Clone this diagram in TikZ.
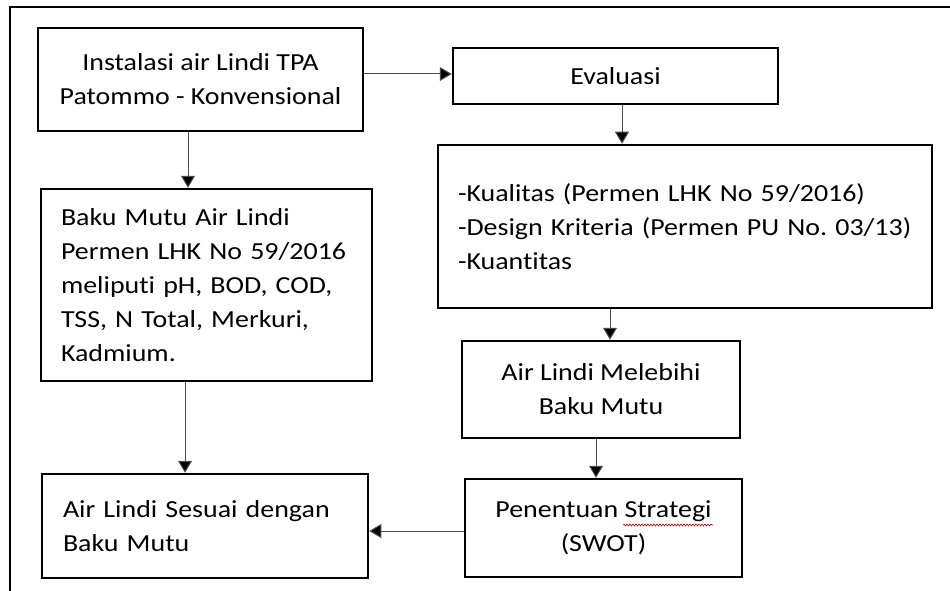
\documentclass[tikz,border=0pt]{standalone}
\usepackage{fontspec}
\setmainfont{Carlito}[FakeStretch=1.14,Ligatures=NoCommon]
\usetikzlibrary{arrows.meta,decorations.pathmorphing}
\begin{document}
\frenchspacing
\begin{tikzpicture}[x=1pt,y=-1pt,
  box/.style={draw=black,line width=2.5pt,inner sep=0pt,font=\fontsize{24.5}{34}\selectfont\frenchspacing},
  cbox/.style={box,align=center},
  lbox/.style={box,text width=#1,execute at begin node={\raggedright}},
  conn/.style={draw=black!70,line width=1pt,-{Triangle[length=12pt,width=14pt,fill=black]}}]
\useasboundingbox (0,0) rectangle (950,591);
\draw[line width=2.5pt] (10,591) -- (10,7) -- (950,7);

\node[cbox,minimum width=325pt,minimum height=103pt] (a) at (200.5,79.5) {Instalasi air Lindi TPA\\Patommo - Konvensional};
\node[cbox,minimum width=325pt,minimum height=56pt] (ev) at (615.5,76) {Evaluasi};
\node[box,minimum width=494pt,minimum height=163pt,text width=474pt,execute at begin node={\raggedright\leftskip=10pt}] (kual) at (685,226.5) {-Kualitas (Permen LHK No 59/2016)\\-Design Kriteria (Permen PU No. 03/13)\\-Kuantitas};
\node[lbox=291pt,minimum width=331pt,minimum height=192pt] (baku) at (206.5,285) {Baku Mutu Air Lindi\\Permen LHK No 59/2016\\meliputi pH, BOD, COD,\\TSS, N Total, Merkuri,\\Kadmium.};
\node[lbox=284pt,minimum width=326pt,minimum height=104pt] (sesuai) at (205,526) {Air Lindi Sesuai dengan\\Baku Mutu};
\node[cbox,minimum width=278pt,minimum height=97pt] (mel) at (601,389.5) {Air Lindi Melebihi\\Baku Mutu};
\node[cbox,minimum width=277pt,minimum height=98pt] (pen) at (603.5,528) {Penentuan Strategi\\(SWOT)};

\draw[red!80!black,line width=0.6pt,decorate,decoration={snake,amplitude=1pt,segment length=3pt}] (623,525) -- (713,525);

\draw[conn] ([yshift=5.5pt]a.east) -- ([yshift=5.5pt]a.east -| ev.west);
\draw[conn] ([xshift=-12.5pt]a.south) -- ([xshift=-12.5pt]a.south |- baku.north);
\draw[conn] ([xshift=6.5pt]ev.south) -- ([xshift=6.5pt]ev.south |- kual.north);
\draw[conn] ([xshift=9pt]mel.north |- kual.south) -- ([xshift=9pt]mel.north);
\draw[conn] ([xshift=-20pt]sesuai.north |- baku.south) -- ([xshift=-20pt]sesuai.north);
\draw[conn] ([xshift=-5pt]mel.south) -- ([xshift=-5pt]mel.south |- pen.north);
\draw[conn] ([yshift=-3pt]pen.west) -- ([yshift=-3pt]pen.west -| sesuai.east);
\end{tikzpicture}
\end{document}
